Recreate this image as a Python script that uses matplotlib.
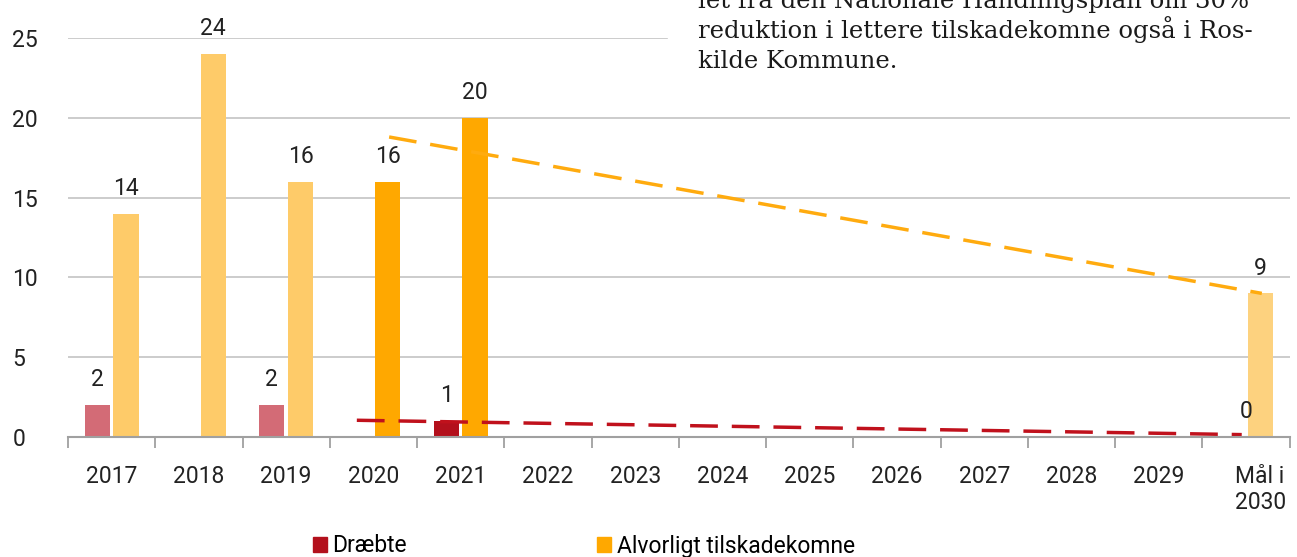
import matplotlib
matplotlib.use('agg')
import matplotlib.pyplot as plt
import numpy as np
from matplotlib.patches import Rectangle
import matplotlib.transforms as mtransforms

categories = ["2017", "2018", "2019", "2020", "2021", "2022", "2023", "2024",
              "2025", "2026", "2027", "2028", "2029", "Mål i\n2030"]
draebte = [2, None, 2, None, 1, None, None, None, None, None, None, None, None, None]
alvorligt = [14, 24, 16, 16, 20, None, None, None, None, None, None, None, None, 9]
draebte_colors = ["#d36b76", None, "#d36b76", None, "#b3101c"] + [None] * 9
alvorligt_colors = ["#fecb69", "#fecb69", "#fecb69", "#ffa800", "#ffa800"] + [None] * 8 + ["#fdd27f"]
label_draebte = {0: "2", 2: "2", 4: "1", 13: "0"}
label_alvorligt = {0: "14", 1: "24", 2: "16", 3: "16", 4: "20", 13: "9"}

# trend lines (start category, value) -> (end category, value)
trend_alvorligt = ([3, 13], [18.8, 9.0])
trend_draebte = ([3, 13], [1.05, 0.15])

plt.rcParams['font.family'] = ['Roboto', 'DejaVu Sans']
FS = 16.5
TXT = '#222222'

fig = plt.figure(figsize=(12.97, 5.57), dpi=100)
ax = fig.add_axes([0.0524, 0.2154, 0.942, 0.7163])

x = np.arange(len(categories))
w = 0.29
off = 0.165

for i in x:
    if draebte[i] is not None:
        ax.bar(i - off, draebte[i], width=w, color=draebte_colors[i], zorder=3)
    if alvorligt[i] is not None:
        ax.bar(i + off, alvorligt[i], width=w, color=alvorligt_colors[i], zorder=3)

for i, t in label_draebte.items():
    v = draebte[i] if draebte[i] is not None else 0
    xi = i - off if i != 13 else i
    ax.annotate(t, (xi, v), xytext=(0, 10), textcoords='offset points',
                ha='center', va='bottom', fontsize=FS, color=TXT)
for i, t in label_alvorligt.items():
    ax.annotate(t, (i + off, alvorligt[i]), xytext=(0, 10), textcoords='offset points',
                ha='center', va='bottom', fontsize=FS, color=TXT)

ax.plot(np.array(trend_alvorligt[0]) + 0.18, trend_alvorligt[1], color='#ffab0f',
        lw=2.5, dashes=(8, 4), zorder=4)
ax.plot(np.array(trend_draebte[0]) + np.array([-0.19, -0.05]), trend_draebte[1],
        color='#c0111c', lw=2.5, dashes=(8, 4), zorder=4)

ax.set_xlim(-0.5, len(categories) - 0.5)
ax.set_ylim(0, 25)
ax.set_yticks([0, 5, 10, 15, 20, 25])
ax.set_xticks(x)
ax.set_xticklabels(categories)
ax.set_xticks(np.arange(-0.5, len(categories), 1), minor=True)
ax.tick_params(axis='x', which='major', length=0, pad=20, labelsize=FS, labelcolor=TXT)
ax.tick_params(axis='x', which='minor', length=8, color='#a0a0a0', width=1.3)
ax.tick_params(axis='y', length=0, pad=40, labelsize=FS, labelcolor=TXT)
for lab in ax.get_yticklabels():
    lab.set_horizontalalignment('left')
# last label sits a little to the right in the original
last = ax.get_xticklabels()[-1]
last.set_transform(last.get_transform() + mtransforms.ScaledTranslation(14 / 100, 0, fig.dpi_scale_trans))
ax.grid(axis='y', color='#c4c4c4', lw=1.2, zorder=0)
for s in ['top', 'right', 'left']:
    ax.spines[s].set_visible(False)
ax.spines['bottom'].set_color('#a0a0a0')
ax.spines['bottom'].set_linewidth(1.5)
ax.spines['bottom'].set_zorder(5)

handles = [Rectangle((0, 0), 1, 1, color='#b3101c'), Rectangle((0, 0), 1, 1, color='#ffa800')]
fig.legend(handles, ["Dræbte", "Alvorligt tilskadekomne"], loc='center left',
           bbox_to_anchor=(297 / 1297, 1 - 546 / 557), ncol=2, frameon=False, fontsize=FS,
           handlelength=0.6, handleheight=0.6, handletextpad=0.25, columnspacing=8.3,
           borderpad=0.2)

# overlapping text box from the page
fig.patches.append(Rectangle((668 / 1297, 1 - 75 / 557), 1, 1, transform=fig.transFigure,
                             color='white', zorder=10))
lines = ["let fra den Nationale Handlingsplan om 30%",
         "reduktion i lettere tilskadekomne også i Ros-",
         "kilde Kommune."]
for k, line in enumerate(lines):
    fig.text(698 / 1297, 1 - (8 + 30 * k) / 557, line, fontsize=17.5, family='DejaVu Serif',
             color='#1a1a1a', va='baseline', ha='left', zorder=11)

fig.savefig('out.png', dpi=100)
